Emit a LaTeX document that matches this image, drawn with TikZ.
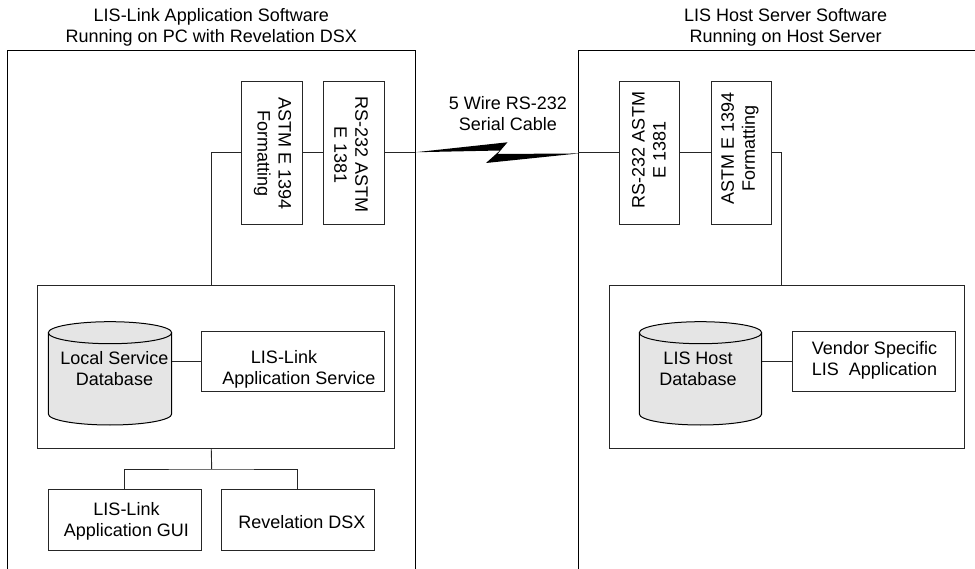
\documentclass[tikz,border=0pt]{standalone}
\usepackage{fontspec}
\setmainfont{Liberation Sans}
\begin{document}
\begin{tikzpicture}[x=1pt,y=-1pt]
\tikzset{
 box/.style={draw=black!85, line width=0.9pt, inner sep=0pt, fill=white},
 txt/.style={font=\fontsize{18}{21}\selectfont, align=center, inner sep=0pt},
 wire/.style={draw=black!85, line width=0.9pt},
 frame/.style={draw=black, line width=1.2pt},
 dbfill/.style={fill=black!10, draw=black, line width=1pt},
 vbox/.style={box, minimum width=60.5pt, minimum height=142.3pt},
 hbox/.style={box, minimum height=60pt}
}
\useasboundingbox (0,0) rectangle (975,569);

% outer frames
\draw[frame] (7.3,570) -- (7.3,50.3) -- (415.3,50.3) -- (415.3,570);
\draw[frame] (578.3,570) -- (578.3,50.3) -- (976,50.3);

% titles
\node[txt] (titleL) at (211.3,27.8) {LIS-Link Application Software\\Running on PC with Revelation DSX};
\node[txt] (titleR) at (785.7,27.8) {LIS Host Server Software\\Running on Host Server};

% vertical protocol boxes
\node[vbox] (astmL) at (271.85,152.85) {};
\node[vbox] (rsL) at (353.85,152.85) {};
\node[vbox] (rsR) at (649.65,152.85) {};
\node[vbox] (astmR) at (741.2,152.85) {};
\node[txt, rotate=-90] (astmLt) at (272.5,154) {ASTM E 1394\\Formatting};
\node[txt, rotate=-90] (rsLt) at (351,155) {RS-232 ASTM\\E 1381};
\node[txt, rotate=90] (rsRt) at (648.8,150) {RS-232 ASTM\\E 1381};
\node[txt, rotate=90] (astmRt) at (740,148.3) {ASTM E 1394\\Formatting};

% inner boxes
\node[box, minimum width=356.7pt, minimum height=163.3pt] (innerL) at (215.65,366.65) {};
\node[box, minimum width=355pt, minimum height=163.3pt] (innerR) at (786.8,366.65) {};

% service boxes
\node[hbox, minimum width=182.3pt] (svcL) at (292.85,361.7) {};
\node[txt] (svcLt) at (299,369) {LIS-Link\hspace*{30pt}\\Application Service};
\node[hbox, minimum width=162.7pt] (vendor) at (873.65,361.7) {};
\node[txt] (vendort) at (874.5,360) {Vendor Specific\\LIS\ \ Application};

% bottom boxes
\node[hbox, minimum width=152.3pt, minimum height=60.7pt] (gui) at (124.85,519.65) {};
\node[txt] (guit) at (126.5,521) {LIS-Link\\Application GUI};
\node[hbox, minimum width=153.3pt, minimum height=60.7pt] (rev) at (297.65,519.65) {};
\node[txt] (revt) at (302,521.7) {Revelation DSX};

% cylinders
\node[minimum width=123.4pt, minimum height=103.3pt, inner sep=0pt] (cylL) at (110,373.35) {};
\node[minimum width=122.4pt, minimum height=103.3pt, inner sep=0pt] (cylR) at (700.5,373.35) {};
\path[dbfill] (48.3,332.7) -- (48.3,414) arc[start angle=180,end angle=360,x radius=61.7pt,y radius=11pt] -- (171.7,332.7) arc[start angle=0,end angle=180,x radius=61.7pt,y radius=11pt] -- cycle;
\draw[line width=1pt] (48.3,332.7) arc[start angle=180,end angle=360,x radius=61.7pt,y radius=11pt];
\path[dbfill] (639.3,332.7) -- (639.3,414) arc[start angle=180,end angle=360,x radius=61.2pt,y radius=11pt] -- (761.7,332.7) arc[start angle=0,end angle=180,x radius=61.2pt,y radius=11pt] -- cycle;
\draw[line width=1pt] (639.3,332.7) arc[start angle=180,end angle=360,x radius=61.2pt,y radius=11pt];
\node[txt] (cylLt) at (114.5,369) {Local Service\\Database};
\node[txt] (cylRt) at (698,368.7) {LIS Host\\Database};

% serial cable label
\node[txt] (cable) at (508,113.5) {5 Wire RS-232\\Serial Cable};

% connectors
\coordinate (boltA) at (415.3,152.85);
\coordinate (boltB) at (578.3,152.85);
\coordinate (jB) at (211.7,469);
\draw[wire] (astmL.west) -| ([xshift=174.4pt]innerL.north west);
\draw[wire] (astmL.east) -- (rsL.west);
\draw[wire] (rsL.east) -- (boltA);
\draw[wire] (boltB) -- (rsR.west);
\draw[wire] (rsR.east) -- (astmR.west);
\draw[wire] (astmR.east) -| ([xshift=172.7pt]innerR.north west);
\draw[wire] (cylL.east |- svcL.west) -- (svcL.west);
\draw[wire] (cylR.east |- vendor.west) -- (vendor.west);
\draw[wire] ([xshift=174.4pt]innerL.south west) -- (jB);
\draw[wire] (gui.north) |- (jB) -| (rev.north);

% lightning bolt
\fill[black] ([yshift=0.6pt]boltA) -- (507.5,142.3) -- (497.5,154) -- ([yshift=-0.6pt]boltB) -- (486,163) -- (500,150.5) -- cycle;
\end{tikzpicture}
\end{document}
